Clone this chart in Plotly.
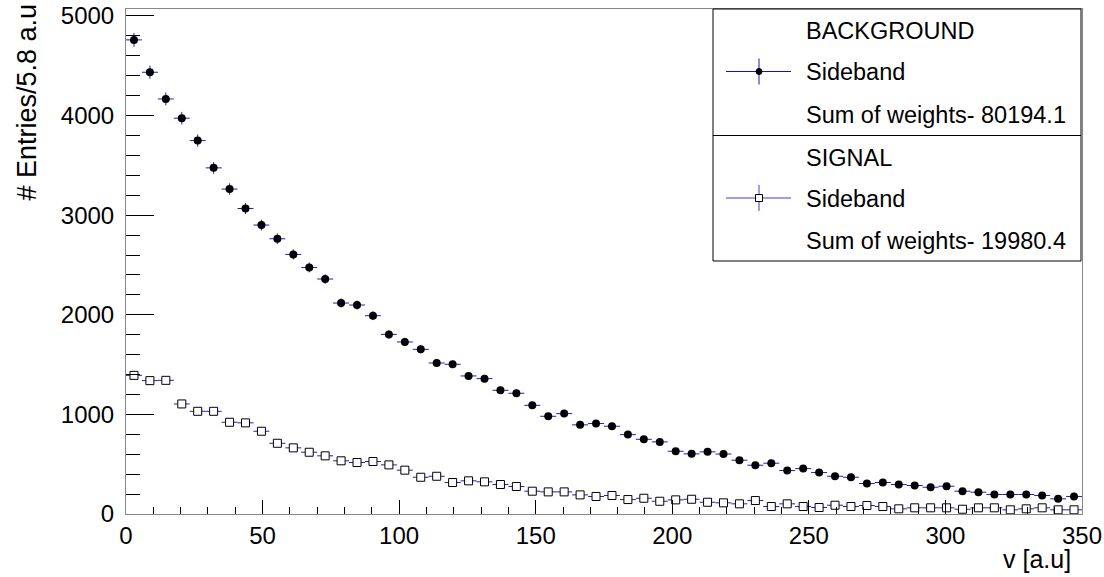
import numpy as np
import plotly.graph_objects as go

# ---- data ----
x_min, x_max, n_bins = 0.0, 350.0, 60
background = [4760, 4435, 4167, 3974, 3749, 3475, 3262, 3067, 2901, 2763,
              2606, 2475, 2359, 2118, 2098, 1991, 1803, 1727, 1653, 1516,
              1503, 1386, 1359, 1242, 1212, 1091, 981, 1008, 895, 908,
              881, 797, 750, 724, 630, 604, 624, 602, 540, 490,
              510, 436, 456, 416, 379, 369, 306, 316, 296, 286,
              269, 279, 229, 219, 196, 196, 196, 186, 152, 176]
signal = [1392, 1339, 1342, 1105, 1031, 1031, 921, 915, 831, 710,
          664, 620, 584, 534, 517, 527, 493, 440, 369, 379,
          316, 333, 323, 296, 276, 229, 222, 222, 192, 176,
          186, 145, 158, 128, 142, 148, 118, 112, 102, 135,
          75, 102, 75, 65, 88, 75, 85, 75, 52, 62,
          62, 62, 48, 62, 62, 42, 52, 62, 42, 42]
x_ticks = [0, 50, 100, 150, 200, 250, 300, 350]
y_ticks = [0, 1000, 2000, 3000, 4000, 5000]
legend_rows = ["BACKGROUND", "Sideband", "Sum of weights- 80194.1",
               "SIGNAL", "Sideband", "Sum of weights- 19980.4"]

bw = (x_max - x_min) / n_bins
centers = x_min + bw * (np.arange(n_bins) + 0.5)
bkg = np.array(background, dtype=float)
sig = np.array(signal, dtype=float)

FONT = "Liberation Sans, Arial, sans-serif"
ERR_COL = "rgb(30,30,200)"

fig = go.Figure()
fig.add_trace(go.Scatter(
    x=centers, y=bkg, mode="markers",
    marker=dict(symbol="circle", size=8, color="black"),
    error_y=dict(type="data", array=np.sqrt(bkg), color=ERR_COL, thickness=1, width=0),
    error_x=dict(type="constant", value=bw / 2, color=ERR_COL, thickness=1, width=0),
    showlegend=False))
fig.add_trace(go.Scatter(
    x=centers, y=sig, mode="markers",
    marker=dict(symbol="square", size=8, color="white", line=dict(color="black", width=1)),
    error_y=dict(type="data", array=np.sqrt(sig), color=ERR_COL, thickness=1, width=0),
    error_x=dict(type="constant", value=bw / 2, color=ERR_COL, thickness=1, width=0),
    showlegend=False))

# plot area in pixels
L, R, T, B = 126, 1082, 9, 514
W, H = R - L, B - T
def px(x):
    return (x - L) / W
def py(y):
    return (B - y) / H

shapes = []
annotations = []
# legend box
shapes.append(dict(type="rect", xref="paper", yref="paper",
                   x0=px(713), x1=px(1081), y0=py(261), y1=py(9),
                   line=dict(color="black", width=1), fillcolor="white", layer="above"))
shapes.append(dict(type="line", xref="paper", yref="paper",
                   x0=px(713), x1=px(1081), y0=py(135.5), y1=py(135.5),
                   line=dict(color="black", width=1), layer="above"))
# legend symbols
for yc, col in ((71.5, "rgb(20,20,190)"), (198, "rgb(60,60,240)")):
    shapes.append(dict(type="line", xref="paper", yref="paper",
                       x0=px(726), x1=px(791), y0=py(yc), y1=py(yc),
                       line=dict(color=col, width=1), layer="above"))
    shapes.append(dict(type="line", xref="paper", yref="paper",
                       x0=px(759), x1=px(759), y0=py(yc - 13), y1=py(yc + 13),
                       line=dict(color=col, width=1), layer="above"))
shapes.append(dict(type="circle", xref="paper", yref="paper",
                   x0=px(756), x1=px(762), y0=py(74.5), y1=py(68.5),
                   line=dict(color="black", width=1), fillcolor="black", layer="above"))
shapes.append(dict(type="rect", xref="paper", yref="paper",
                   x0=px(755.5), x1=px(762.5), y0=py(201.5), y1=py(194.5),
                   line=dict(color="black", width=1), fillcolor="white", layer="above"))
for txt, yc in zip(legend_rows, [31, 72, 115, 157.5, 199, 241.5]):
    annotations.append(dict(text=txt, xref="paper", yref="paper", x=px(804), y=py(yc),
                            xanchor="left", yanchor="middle", showarrow=False,
                            font=dict(family=FONT, size=23.5, color="black")))
# axis titles
annotations.append(dict(text="# Entries/5.8 a.u", xref="paper", yref="paper",
                        x=px(26), y=py(2), xanchor="center", yanchor="top",
                        textangle=-90, showarrow=False,
                        font=dict(family=FONT, size=27, color="black")))
annotations.append(dict(text="v [a.u]", xref="paper", yref="paper",
                        x=px(1073), y=py(559), xanchor="right", yanchor="middle",
                        showarrow=False, font=dict(family=FONT, size=25, color="black")))

fig.update_layout(
    template="none",
    width=1104, height=577,
    margin=dict(l=L, r=1104 - R, t=T, b=577 - B, pad=0),
    paper_bgcolor="white", plot_bgcolor="white",
    font=dict(family=FONT, size=24, color="black"),
    shapes=shapes, annotations=annotations,
    xaxis=dict(range=[x_min, x_max], tickvals=x_ticks, ticks="inside", ticklen=14,
               tickcolor="black", tickwidth=1, showgrid=False, zeroline=False,
               showline=True, linecolor="#888888", linewidth=1, mirror=True,
               automargin=False,
               minor=dict(dtick=10, ticks="inside", ticklen=7, tickcolor="black", showgrid=False),
               tickfont=dict(family=FONT, size=24, color="black"), ticklabelstandoff=0),
    yaxis=dict(range=[0, 5070], tickvals=y_ticks, ticks="inside", ticklen=28,
               tickcolor="black", tickwidth=1, showgrid=False, zeroline=False,
               showline=True, linecolor="#888888", linewidth=1, mirror=True,
               automargin=False,
               minor=dict(dtick=200, ticks="inside", ticklen=14, tickcolor="black", showgrid=False),
               tickfont=dict(family=FONT, size=24, color="black"), ticklabelstandoff=6),
)

fig.write_html("out.html")
